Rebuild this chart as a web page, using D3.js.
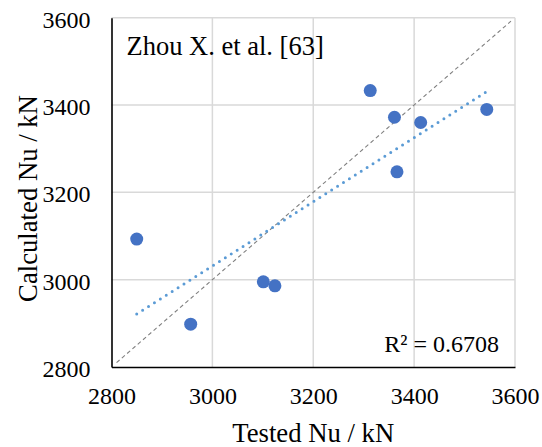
<!DOCTYPE html>
<html>
<head>
<meta charset="utf-8">
<script src="https://cdn.jsdelivr.net/npm/d3@7/dist/d3.min.js"></script>
<style>
  html, body { margin: 0; padding: 0; background: #fff; }
  svg { display: block; }
  svg text { font-family: "Times New Roman", "Liberation Serif", Tinos, serif !important; fill: #000; }
</style>
</head>
<body>
<svg id="chart" width="542" height="447"></svg>
<script>
// Tested vs. calculated ultimate load (kN)
const testedNu     = [2850, 2957, 3101, 3124, 3313, 3361, 3366, 3413, 3544];
const calculatedNu = [3093, 2898, 2995, 2986, 3433, 3372, 3247, 3360, 3390];
const xTicks = [2800, 3000, 3200, 3400, 3600];
const yTicks = [2800, 3000, 3200, 3400, 3600];
const rSquaredLabel = "R² = 0.6708";
const sourceLabel = "Zhou X. et al. [63]";

const svg = d3.select("#chart");
const margin = { left: 111.5, right: 27, top: 17.7, bottom: 80 };
const W = 542, H = 447;

const x = d3.scaleLinear().domain([2800, 3600]).range([margin.left, W - margin.right]);
const y = d3.scaleLinear().domain([2800, 3600]).range([H - margin.bottom, margin.top]);

// gridlines
const grid = svg.append("g");
grid.selectAll("line.gx").data(xTicks.slice(1)).join("line")
  .attr("x1", d => x(d)).attr("x2", d => x(d))
  .attr("y1", y(2800)).attr("y2", y(3600))
  .attr("stroke", "#d9d9d9").attr("stroke-width", 1.5);
grid.selectAll("line.gy").data(yTicks.slice(1)).join("line")
  .attr("y1", d => y(d)).attr("y2", d => y(d))
  .attr("x1", x(2800)).attr("x2", x(3600))
  .attr("stroke", "#d9d9d9").attr("stroke-width", 1.5);

// axes
const xAxis = svg.append("g").attr("transform", `translate(0,${y(2800)})`)
  .call(d3.axisBottom(x).tickValues(xTicks).tickSize(0).tickPadding(20).tickFormat(d3.format("d")));
const yAxis = svg.append("g").attr("transform", `translate(${x(2800)},0)`)
  .call(d3.axisLeft(y).tickValues(yTicks).tickSize(0).tickPadding(21).tickFormat(d3.format("d")));
[xAxis, yAxis].forEach(a => {
  a.attr("font-family", null).attr("font-size", null);
  a.select(".domain").attr("stroke", "#000").attr("stroke-width", 1.6);
  a.selectAll("text").style("font-size", "24px").attr("fill", "#000");
});
yAxis.selectAll("text").attr("dy", "0.4em");

// line of equality
svg.append("line")
  .attr("x1", x(2810)).attr("y1", y(2810))
  .attr("x2", x(3592)).attr("y2", y(3592))
  .attr("stroke", "#808080").attr("stroke-width", 1.1)
  .attr("stroke-dasharray", "4 3");

// least-squares trend line
const n = testedNu.length;
const mx = d3.mean(testedNu), my = d3.mean(calculatedNu);
let sxy = 0, sxx = 0;
for (let i = 0; i < n; i++) {
  sxy += (testedNu[i] - mx) * (calculatedNu[i] - my);
  sxx += (testedNu[i] - mx) ** 2;
}
const slope = sxy / sxx, intercept = my - slope * mx;
const [xMin, xMax] = d3.extent(testedNu);
svg.append("line")
  .attr("x1", x(xMin)).attr("y1", y(intercept + slope * xMin))
  .attr("x2", x(xMax)).attr("y2", y(intercept + slope * xMax))
  .attr("stroke", "#5b9bd5").attr("stroke-width", 3)
  .attr("stroke-linecap", "round").attr("stroke-dasharray", "0 7");

// data points
svg.append("g").selectAll("circle").data(testedNu).join("circle")
  .attr("cx", d => x(d))
  .attr("cy", (d, i) => y(calculatedNu[i]))
  .attr("r", 6.5)
  .attr("fill", "#4472c4");

// labels
svg.append("text").attr("x", 126.5).attr("y", 55)
  .style("font-size", "26.5px").text(sourceLabel);
svg.append("text").attr("x", 499).attr("y", 352).attr("text-anchor", "end")
  .style("font-size", "24px").text(rSquaredLabel);
svg.append("text").attr("x", (x(2800) + x(3600)) / 2).attr("y", 442)
  .attr("text-anchor", "middle").style("font-size", "26.7px").text("Tested Nu / kN");
svg.append("text")
  .attr("transform", `translate(37,198.5) rotate(-90)`)
  .attr("text-anchor", "middle").style("font-size", "26.7px").text("Calculated Nu / kN");
</script>
</body>
</html>
